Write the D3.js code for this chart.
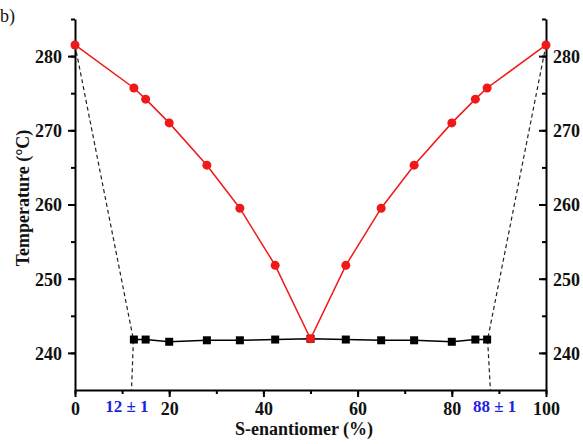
<!DOCTYPE html>
<html>
<head>
<meta charset="utf-8">
<script src="https://cdn.jsdelivr.net/npm/d3@7"></script>
<style>
  body { margin: 0; background: #fff; }
  svg { display: block; font-family: "Liberation Serif", "Times New Roman", serif; }
</style>
</head>
<body>
<svg id="svg"></svg>
<script>

const width = 583;
const height = 444;

// liquidus (red) and eutectic (black) data
const liquidusX = [0, 12.5, 15, 20, 28, 35, 42.5, 50, 57.5, 65, 72, 80, 85, 87.5, 100];
const liquidusT = [281.5, 275.7, 274.2, 271.0, 265.3, 259.5, 251.8, 241.9, 251.8, 259.5, 265.3, 271.0, 274.2, 275.7, 281.5];

const eutecticX = [12.5, 15, 20, 28, 35, 42.5, 50, 57.5, 65, 72, 80, 85, 87.5];
const eutecticT = [241.8, 241.8, 241.5, 241.7, 241.7, 241.8, 241.9, 241.8, 241.7, 241.7, 241.5, 241.8, 241.8];

// dashed guide lines: pure enantiomer -> first eutectic point -> composition on axis
const leftGuideX = [0, 12.4, 12];
const leftGuideT = [281.5, 241.8, 235];
const rightGuideX = [100, 87.6, 88.2];
const rightGuideT = [281.5, 241.8, 235];

const xTicks = [0, 20, 40, 60, 80, 100];
const yTicks = [240, 250, 260, 270, 280];
const eutecticLabels = ["12 ± 1", "88 ± 1"];
const eutecticLabelX = [11, 89.1];

const svg = d3.select("#svg")
  .attr("width", width)
  .attr("height", height);

svg.append("rect")
  .attr("width", width)
  .attr("height", height)
  .attr("fill", "#fff");

const x = d3.scaleLinear().domain([0, 100]).range([75, 546]);
const y = d3.scaleLinear().domain([235, 285]).range([390, 19]);

// minor ticks first
svg.append("g")
  .attr("transform", `translate(0,${y(235)})`)
  .call(d3.axisBottom(x).tickValues(d3.range(0, 101, 10)).tickSize(4).tickFormat(""))
  .call(g => g.select(".domain").remove())
  .selectAll("line").attr("stroke-width", 2);

svg.append("g")
  .attr("transform", `translate(${x(0)},0)`)
  .call(d3.axisLeft(y).tickValues(d3.range(240, 286, 5)).tickSize(4).tickFormat(""))
  .call(g => g.select(".domain").remove())
  .selectAll("line").attr("stroke-width", 2);

svg.append("g")
  .attr("transform", `translate(${x(100)},0)`)
  .call(d3.axisRight(y).tickValues(d3.range(240, 286, 5)).tickSize(-4).tickFormat(""))
  .call(g => g.select(".domain").remove())
  .selectAll("line").attr("stroke-width", 2);

// major axes
const xAxis = svg.append("g")
  .attr("transform", `translate(0,${y(235)})`)
  .call(d3.axisBottom(x).tickValues(xTicks).tickSize(7).tickPadding(5).tickSizeOuter(0));

const yAxisL = svg.append("g")
  .attr("transform", `translate(${x(0)},0)`)
  .call(d3.axisLeft(y).tickValues(yTicks).tickSize(7).tickPadding(6).tickSizeOuter(0));

const yAxisR = svg.append("g")
  .attr("transform", `translate(${x(100)},0)`)
  .call(d3.axisRight(y).tickValues(yTicks).tickSize(-7).tickPadding(7).tickSizeOuter(0));

[xAxis, yAxisL, yAxisR].forEach(g => {
  g.select(".domain").attr("stroke-width", 2);
  g.selectAll(".tick line").attr("stroke-width", 2);
  g.selectAll("text")
    .attr("font-family", "Liberation Serif")
    .attr("font-weight", "bold")
    .attr("font-size", 18)
    .attr("fill", "#111");
});
yAxisL.selectAll("text").attr("dy", "0.35em");
yAxisR.selectAll("text").attr("dy", "0.35em");

// dashed guides
const guide = d3.line().x(d => x(d[0])).y(d => y(d[1]));
[[leftGuideX, leftGuideT], [rightGuideX, rightGuideT]].forEach(([gx, gt]) => {
  svg.append("path")
    .datum(gx.map((v, i) => [v, gt[i]]))
    .attr("d", guide)
    .attr("fill", "none")
    .attr("stroke", "#222")
    .attr("stroke-width", 1.2)
    .attr("stroke-dasharray", "4,3");
});

// eutectic series
const eutData = eutecticX.map((v, i) => [v, eutecticT[i]]);
svg.append("path")
  .datum(eutData)
  .attr("d", guide)
  .attr("fill", "none")
  .attr("stroke", "#000")
  .attr("stroke-width", 1.5);

svg.selectAll(".sq")
  .data(eutData)
  .enter().append("rect")
  .attr("class", "sq")
  .attr("x", d => x(d[0]) - 4)
  .attr("y", d => y(d[1]) - 4)
  .attr("width", 8)
  .attr("height", 8)
  .attr("fill", "#000");

// liquidus series
const liqData = liquidusX.map((v, i) => [v, liquidusT[i]]);
svg.append("path")
  .datum(liqData)
  .attr("d", guide)
  .attr("fill", "none")
  .attr("stroke", "#f01818")
  .attr("stroke-width", 1.5);

svg.selectAll(".dot")
  .data(liqData)
  .enter().append("circle")
  .attr("class", "dot")
  .attr("cx", d => x(d[0]))
  .attr("cy", d => y(d[1]))
  .attr("r", 4.5)
  .attr("fill", "#f01818");

// composition labels
svg.selectAll(".eut")
  .data(eutecticLabels)
  .enter().append("text")
  .attr("x", (d, i) => x(eutecticLabelX[i]))
  .attr("y", 412)
  .attr("text-anchor", "middle")
  .attr("font-weight", "bold")
  .attr("font-size", 17)
  .attr("fill", "#1f1fe0")
  .text(d => d);

// titles
svg.append("text")
  .attr("x", 304)
  .attr("y", 435)
  .attr("text-anchor", "middle")
  .attr("font-weight", "bold")
  .attr("font-size", 18)
  .attr("fill", "#111")
  .text("S-enantiomer (%)");

svg.append("text")
  .attr("transform", `translate(29,198) rotate(-90)`)
  .attr("text-anchor", "middle")
  .attr("font-weight", "bold")
  .attr("font-size", 18)
  .attr("fill", "#111")
  .text("Temperature (°C)");

svg.append("text")
  .attr("x", 0)
  .attr("y", 22)
  .attr("font-size", 18)
  .attr("fill", "#111")
  .text("b)");

</script>
</body>
</html>
